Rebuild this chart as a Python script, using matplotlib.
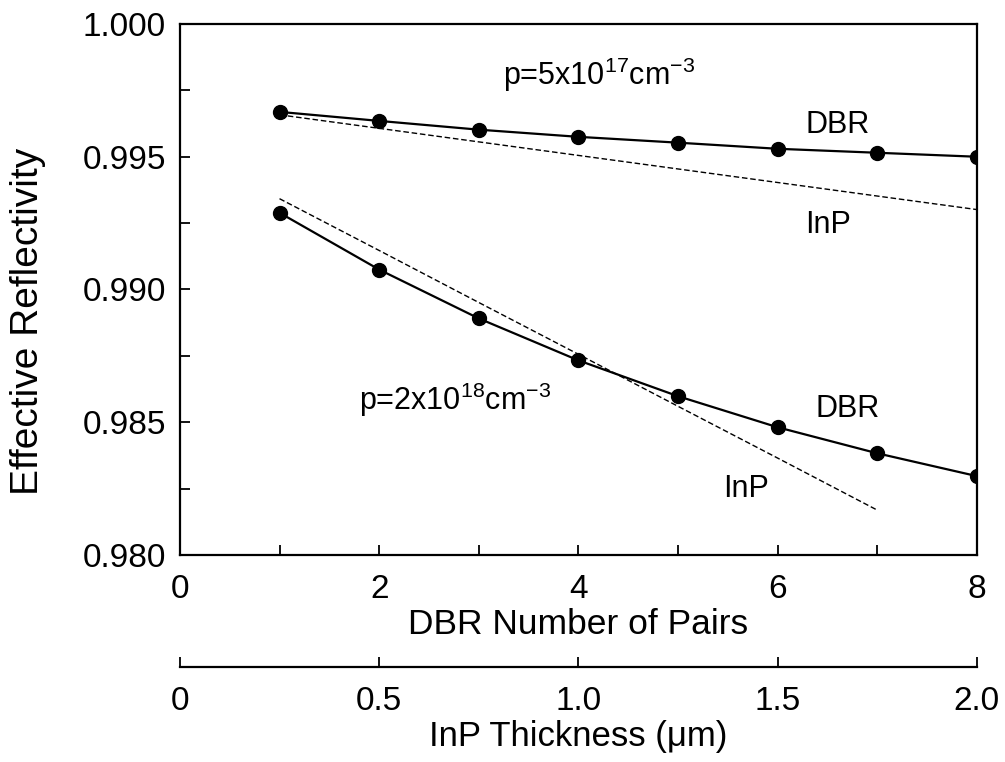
import matplotlib
matplotlib.use('Agg')
import numpy as np
import matplotlib.pyplot as plt

# DBR pairs and reflectivity
pairs = [1, 2, 3, 4, 5, 6, 7, 8]
dbr_low_p = [0.99669, 0.99635, 0.99602, 0.99575, 0.99553, 0.99530, 0.99515, 0.99500]
dbr_high_p = [0.99289, 0.99075, 0.98891, 0.98733, 0.98598, 0.98481, 0.98383, 0.98297]

# InP layer thickness (um) and reflectivity
inp_thick_low = [0.25, 0.5, 0.75, 1.0, 1.25, 1.5, 1.75, 2.0]
inp_low_p = [0.99658, 0.99607, 0.99556, 0.99505, 0.99454, 0.99403, 0.99352, 0.99301]
inp_thick_high = [0.25, 0.5, 0.75, 1.0, 1.25, 1.5, 1.75]
inp_high_p = [0.99342, 0.99147, 0.98951, 0.98756, 0.98560, 0.98365, 0.98169]

um_per_pair = 0.25

plt.rcParams['font.family'] = ['Liberation Sans', 'DejaVu Sans']
plt.rcParams['mathtext.fontset'] = 'custom'
plt.rcParams['mathtext.rm'] = 'Liberation Sans'
plt.rcParams['mathtext.it'] = 'Liberation Sans'

fig = plt.figure(figsize=(10.05, 7.62), dpi=100)
ax = fig.add_axes([0.179, 0.2717, 0.793, 0.6968])

ax.plot(pairs, dbr_low_p, '-o', color='black', lw=1.6, ms=10)
ax.plot(pairs, dbr_high_p, '-o', color='black', lw=1.6, ms=10)
ax.plot(np.array(inp_thick_low) / um_per_pair, inp_low_p, color='black', lw=1.0, dashes=(4, 2))
ax.plot(np.array(inp_thick_high) / um_per_pair, inp_high_p, color='black', lw=1.0, dashes=(4, 2))

ax.set_xlim(0, 8)
ax.set_ylim(0.980, 1.000)
ax.set_xticks([0, 2, 4, 6, 8])
ax.set_xticks([1, 3, 5, 7], minor=True)
ax.set_yticks([0.980, 0.985, 0.990, 0.995, 1.000])
ax.set_yticklabels(['0.980', '0.985', '0.990', '0.995', '1.000'])
ax.set_yticks([0.9825, 0.9875, 0.9925, 0.9975], minor=True)
ax.tick_params(which='both', direction='in', length=7, width=1.3, labelsize=24,
               top=False, right=False)
ax.tick_params(axis='x', pad=14)
ax.tick_params(axis='y', pad=10)
for s in ax.spines.values():
    s.set_linewidth(1.6)

ax.set_xlabel('DBR Number of Pairs', fontsize=25.5, labelpad=2)
ax.set_ylabel('Effective Reflectivity', fontsize=28)
ax.yaxis.set_label_coords(-0.168, 0.44)

sec = ax.secondary_xaxis(-0.211, functions=(lambda x: x * um_per_pair, lambda t: t / um_per_pair))
sec.set_xticks([0, 0.5, 1.0, 1.5, 2.0])
sec.set_xticklabels(['0', '0.5', '1.0', '1.5', '2.0'])
sec.tick_params(direction='in', length=7, width=1.3, labelsize=24, pad=14)
sec.spines['bottom'].set_linewidth(1.6)
sec.set_xlabel('InP Thickness (\u03bcm)', fontsize=25, labelpad=2)

ax.text(3.24, 0.99808, r'p=5x10$^{17}$cm$^{-3}$', fontsize=22, va='center')
ax.text(6.28, 0.99620, 'DBR', fontsize=22, va='center')
ax.text(6.28, 0.99244, 'InP', fontsize=22, va='center')
ax.text(1.80, 0.98586, r'p=2x10$^{18}$cm$^{-3}$', fontsize=22, va='center')
ax.text(6.38, 0.98549, 'DBR', fontsize=22, va='center')
ax.text(5.45, 0.98248, 'InP', fontsize=22, va='center')

fig.savefig('out.png', dpi=100)
